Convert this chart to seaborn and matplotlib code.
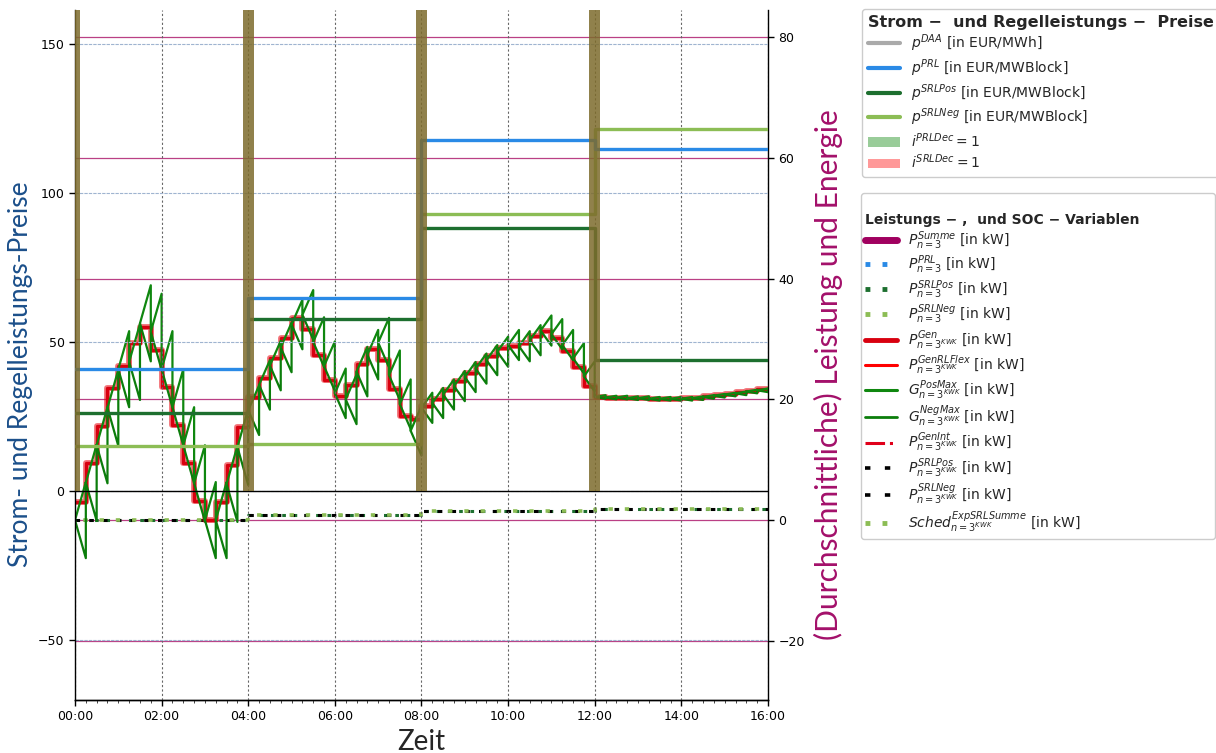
import numpy as np
import pandas as pd
import matplotlib
matplotlib.use("Agg")
import matplotlib.pyplot as plt
import matplotlib.dates as mdates
from matplotlib.lines import Line2D
from matplotlib.patches import Patch
import seaborn as sns

# ---------------------------------------------------------------- data
day = pd.Timestamp("2020-01-01")
n_quarters = 64
quarter_times = pd.date_range(day, periods=n_quarters + 1, freq="15min")
block_hours = [0, 4, 8, 12, 16]

# prices per 4h block (left axis)
p_prl = [41.0, 65.0, 118.0, 115.0]
p_srl_pos = [26.2, 57.7, 88.3, 44.0]
p_srl_neg = [15.1, 15.8, 93.0, 121.5]

# generator set points at the quarter-hour boundaries (kW)
gen_boundary = [
    0.0, 6.2, 12.4, 18.6, 25.0, 26.2, 32.6, 31.2, 25.0, 18.7, 12.4, 6.1, 0.0, 0.0, 6.0, 12.1,
    18.2, 22.4, 25.6, 28.6, 32.4, 34.0, 29.5, 25.5, 21.0, 20.0, 24.6, 27.4, 29.4, 24.0, 19.2, 14.8,
    18.6, 19.4, 20.8, 22.2, 23.7, 25.1, 26.5, 27.9, 29.0, 28.8, 29.8, 31.4, 30.8, 29.0, 26.8, 23.8,
    20.4, 20.3, 20.3, 20.2, 20.2, 20.1, 20.1, 20.1, 20.1, 20.2, 20.4, 20.6, 20.8, 21.0, 21.3, 21.5,
    21.8,
]
# mean generation per quarter hour (kW)
p_gen = [
    3.0, 9.4, 15.6, 21.9, 25.5, 29.4, 32.0, 28.2, 22.0, 15.7, 9.4, 3.1, 0.0, 3.0, 9.2, 15.4,
    20.4, 23.6, 26.9, 30.2, 33.4, 31.7, 27.3, 23.2, 20.5, 22.3, 25.8, 28.4, 26.6, 21.8, 17.2, 16.7,
    18.9, 20.1, 21.5, 23.0, 24.4, 25.8, 27.2, 28.5, 28.9, 29.3, 30.5, 31.3, 30.2, 28.0, 25.4, 22.2,
    20.35, 20.3, 20.25, 20.2, 20.15, 20.1, 20.1, 20.1, 20.15, 20.3, 20.5, 20.7, 20.9, 21.15, 21.4, 21.65,
]
# ramp limit per block (kW per quarter hour)
ramp_limit = [6.3, 4.1, 2.5, 0.3]

# control-reserve schedules per block (kW)
sched_srl = [0.0, 0.8, 1.5, 1.9]
p_srl_kwk = [0.0, 0.8, 1.5, 1.9]
p_srl_pos_n3 = [0.0, 0.85, 1.55, 1.9]

# hours at which a reserve decision is taken
dec_hours = [0.0, 4.0, 8.0, 12.0]

# ---------------------------------------------------------------- style
sns.set_style("ticks")
label_font = ["Lato", "DejaVu Sans"]
plt.rcParams["font.family"] = ["DejaVu Sans"]
plt.rcParams["mathtext.fontset"] = "dejavusans"

C_BLUE = "#2a8ae6"
C_DGREEN = "#1d6f2f"
C_LGREEN = "#8cbd55"
C_RED = "#d8000f"
C_ZIG = "#0f870f"
C_MAGENTA = "#a3005c"
C_BAND = "#7d6b2c"

fig = plt.figure(figsize=(12.16, 7.53), dpi=100)
ax = fig.add_axes([75 / 1216, 1 - 700 / 753, (768 - 75) / 1216, 690 / 753])
ax2 = ax.twinx()

left_lim = (-70.0, 161.5)
right_lim = (-29.8, 84.5)

# ---------------------------------------------------------------- price steps (left axis)
block_times = [day + pd.Timedelta(hours=h) for h in block_hours]
for vals, col in [(p_srl_neg, C_LGREEN), (p_srl_pos, C_DGREEN), (p_prl, C_BLUE)]:
    sns.lineplot(x=block_times, y=list(vals) + [vals[-1]], ax=ax, color=col, lw=2.4,
                 drawstyle="steps-post", estimator=None, sort=False, zorder=3)

ax.axhline(0, color="black", lw=1.0, zorder=2)

# decision bands
for h in dec_hours:
    t0 = day + pd.Timedelta(hours=h) - pd.Timedelta(minutes=7.5)
    t1 = day + pd.Timedelta(hours=h) + pd.Timedelta(minutes=7.5)
    ax.fill_between([t0, t1], 0, left_lim[1], color=C_BAND, alpha=0.85, lw=0, zorder=10)

# ---------------------------------------------------------------- power (right axis)
def block_vals(v):
    return list(v) + [v[-1]]

sns.lineplot(x=block_times, y=block_vals(p_srl_pos_n3), ax=ax2, color=C_DGREEN, lw=2.2,
             ls=(1, (1.2, 2.5)), drawstyle="steps-post", estimator=None, sort=False, zorder=2)
sns.lineplot(x=block_times, y=block_vals(p_srl_kwk), ax=ax2, color="black", lw=2.2,
             ls=(0, (1.5, 3.0)), drawstyle="steps-post", estimator=None, sort=False, zorder=3)
sns.lineplot(x=block_times, y=block_vals(sched_srl), ax=ax2, color=C_LGREEN, lw=2.6,
             ls=(2.2, (1.2, 3.3)), drawstyle="steps-post", estimator=None, sort=False, zorder=4)

# generation (quarter-hour mean)
gen_y = list(p_gen) + [p_gen[-1]]
sns.lineplot(x=quarter_times, y=gen_y, ax=ax2, color="#e8000b", lw=4.2, alpha=0.55,
             drawstyle="steps-post", estimator=None, sort=False, zorder=5)
sns.lineplot(x=quarter_times, y=gen_y, ax=ax2, color=C_RED, lw=2.4,
             drawstyle="steps-post", estimator=None, sort=False, zorder=6)

# ramp envelopes starting from each boundary set point
pos_x, pos_y, neg_x, neg_y = [], [], [], []
for k in range(n_quarters):
    a = ramp_limit[k // 16]
    g = gen_boundary[k]
    pos_x += [quarter_times[k], quarter_times[k + 1]]
    pos_y += [g, g + a]
    neg_x += [quarter_times[k], quarter_times[k + 1]]
    neg_y += [g, g - a]
pos_x.append(quarter_times[-1]); pos_y.append(gen_boundary[-1])
neg_x.append(quarter_times[-1]); neg_y.append(gen_boundary[-1])
sns.lineplot(x=neg_x, y=neg_y, ax=ax2, color="#0b7d0b", lw=1.6, estimator=None, sort=False, zorder=7)
sns.lineplot(x=pos_x, y=pos_y, ax=ax2, color=C_ZIG, lw=1.6, estimator=None, sort=False, zorder=8)

# ---------------------------------------------------------------- axes
ax.set_zorder(ax2.get_zorder() + 1)
ax.patch.set_visible(False)

ax.set_ylim(*left_lim)
ax2.set_ylim(*right_lim)
ax.set_xlim(day, day + pd.Timedelta(hours=16))
ax.set_yticks([-50, 0, 50, 100, 150])
ax2.set_yticks([-20, 0, 20, 40, 60, 80])
minus_fmt = matplotlib.ticker.FuncFormatter(lambda v, p: f"{v:.0f}".replace("-", "\u2212"))
ax.yaxis.set_major_formatter(minus_fmt)
ax2.yaxis.set_major_formatter(minus_fmt)

ax.xaxis.set_major_locator(mdates.HourLocator(byhour=range(0, 24, 2)))
ax.xaxis.set_major_formatter(mdates.DateFormatter("%H:%M"))
ax.xaxis.set_minor_locator(mdates.MinuteLocator(byminute=[0, 15, 30, 45]))

ax.xaxis.grid(True, which="major", color="#666666", lw=0.8, ls=(0, (2, 2)))
ax.yaxis.grid(True, color="#9fb4d0", lw=0.8, ls=(0, (3, 1)))
ax2.yaxis.grid(True, color=C_MAGENTA, lw=0.9, alpha=0.75)

for a_ in (ax, ax2):
    a_.tick_params(axis="both", labelsize=9, direction="out", length=4, width=1, colors="black")
    a_.tick_params(axis="x", which="minor", length=2)
    a_.spines["top"].set_visible(False)
    for s in ("left", "right", "bottom"):
        a_.spines[s].set_color("black")
        a_.spines[s].set_linewidth(1.0)
ax2.spines["left"].set_visible(False)
ax.spines["right"].set_visible(False)

ax.set_xlabel("Zeit", fontsize=20, family=label_font, labelpad=4)
ax.set_ylabel("Strom- und Regelleistungs-Preise", fontsize=19, family=label_font,
              color="#1b4f8a")
ax2.set_ylabel("(Durchschnittliche) Leistung und Energie", fontsize=21.5, family=label_font,
               color="#a3106a")
ax.yaxis.set_label_coords(-0.060, 0.472)
ax2.yaxis.set_label_coords(1.066, 0.472)

# ---------------------------------------------------------------- legends
h1 = [
    Line2D([], [], color="#aaaaaa", lw=3),
    Line2D([], [], color=C_BLUE, lw=3),
    Line2D([], [], color=C_DGREEN, lw=3),
    Line2D([], [], color=C_LGREEN, lw=3),
    Patch(facecolor="#99cc99", edgecolor="none"),
    Patch(facecolor="#ff9999", edgecolor="none"),
]
l1 = [
    r"$p^{DAA}$ [in EUR/MWh]",
    r"$p^{PRL}$ [in EUR/MWBlock]",
    r"$p^{SRLPos}$ [in EUR/MWBlock]",
    r"$p^{SRLNeg}$ [in EUR/MWBlock]",
    r"$i^{PRLDec} = 1$",
    r"$i^{SRLDec} = 1$",
]
leg1 = fig.legend(h1, l1, loc="upper left", bbox_to_anchor=(862 / 1216, 1 - 9 / 753),
                  title="Strom \u2212  und Regelleistungs \u2212  Preise",
                  title_fontproperties={"weight": "bold", "size": 11.5},
                  fontsize=10, frameon=True, framealpha=1, edgecolor="#cccccc",
                  handlelength=2.3, labelspacing=0.22, alignment="left", borderaxespad=0)

h2 = [
    Line2D([], [], color="#a0005f", lw=5),
    Line2D([], [], color=C_BLUE, lw=3.5, ls=(0, (1, 2.5))),
    Line2D([], [], color=C_DGREEN, lw=3.5, ls=(0, (1, 2.5))),
    Line2D([], [], color=C_LGREEN, lw=3.5, ls=(0, (1, 2.5))),
    Line2D([], [], color=C_RED, lw=3.5),
    Line2D([], [], color="#ff0000", lw=2.2),
    Line2D([], [], color=C_ZIG, lw=2.2),
    Line2D([], [], color="#0b7d0b", lw=2.0),
    Line2D([], [], color="#e0001a", lw=2.2, ls="-."),
    Line2D([], [], color="black", lw=2.6, ls=(0, (1.5, 4))),
    Line2D([], [], color="black", lw=2.6, ls=(0, (1.5, 4))),
    Line2D([], [], color=C_LGREEN, lw=3.5, ls=(0, (1, 2.5))),
]
l2 = [
    r"$P^{Summe}_{n=3}$ [in kW]",
    r"$P^{PRL}_{n=3}$ [in kW]",
    r"$P^{SRLPos}_{n=3}$ [in kW]",
    r"$P^{SRLNeg}_{n=3}$ [in kW]",
    r"$P^{Gen}_{n=3^{KWK}}$ [in kW]",
    r"$P^{GenRLFlex}_{n=3^{KWK}}$ [in kW]",
    r"$G^{PosMax}_{n=3^{KWK}}$ [in kW]",
    r"$G^{NegMax}_{n=3^{KWK}}$ [in kW]",
    r"$P^{GenInt}_{n=3^{KWK}}$ [in kW]",
    r"$P^{SRLPos}_{n=3^{KWK}}$ [in kW]",
    r"$P^{SRLNeg}_{n=3^{KWK}}$ [in kW]",
    r"$Sched^{ExpSRLSumme}_{n=3^{KWK}}$ [in kW]",
]
leg2 = fig.legend(h2, l2, loc="upper left",
                  bbox_to_anchor=(861 / 1216, 1 - 193 / 753, 354 / 1216, 0), mode="expand",
                  title="\nLeistungs \u2212 ,  und SOC \u2212 Variablen",
                  title_fontproperties={"weight": "bold", "size": 10},
                  fontsize=10, frameon=True, framealpha=1, edgecolor="#cccccc",
                  handlelength=2.3, labelspacing=0.13, borderpad=0.3,
                  alignment="left", borderaxespad=0)

fig.savefig("out.png", dpi=100, facecolor="white")
